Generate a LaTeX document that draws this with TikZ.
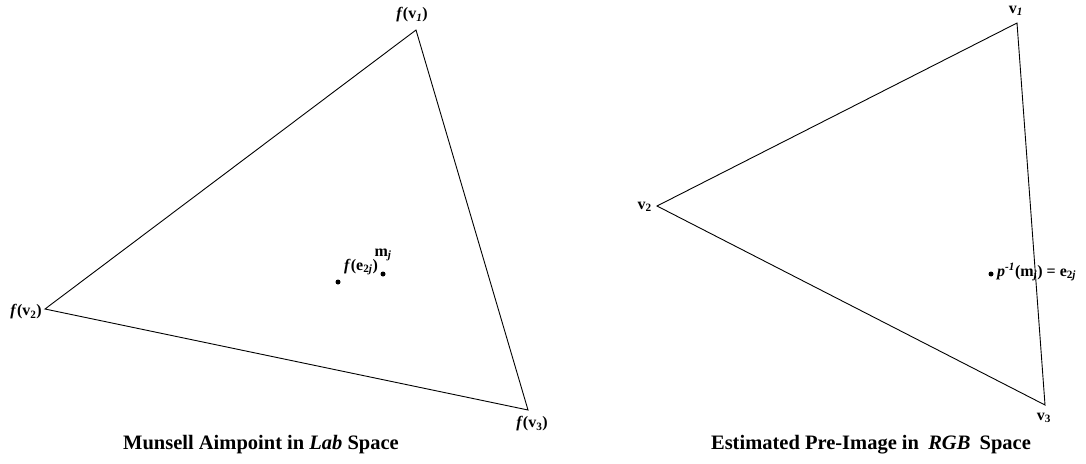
\documentclass[tikz,border=0pt]{standalone}
\usepackage{fontspec}
\setmainfont{Liberation Serif}
\newcommand{\sbi}[1]{\textsubscript{\textit{#1}}}
\newcommand{\spi}[1]{\textsuperscript{\textit{#1}}}
\begin{document}
\begin{tikzpicture}[x=1pt,y=-1pt,
  edge/.style={draw=black,line width=0.9pt,line join=miter},
  lbl/.style={font=\fontsize{16}{18}\selectfont\bfseries,inner sep=1pt},
  captxt/.style={font=\fontsize{20.5}{23}\selectfont\bfseries,inner sep=0pt},
  pt/.style={circle,fill=black,inner sep=0pt,minimum size=5pt}]
\useasboundingbox (0,0) rectangle (1086,463);
% left triangle
\coordinate (a1) at (416,30);
\coordinate (a2) at (45,309);
\coordinate (a3) at (528,410);
\draw[edge] (a1) -- (a2) -- (a3) -- cycle;
\node[lbl] (la1) at (412,15) {\textit{f}(v\sbi{1})};
\node[lbl,anchor=east] (la2) at (43,312) {\textit{f}(v\textsubscript{2})};
\node[lbl] (la3) at (532,424) {\textit{f}(v\textsubscript{3})};
\node[pt] (fe) at (338,282) {};
\node[pt] (mj) at (383,274) {};
\node[lbl] (lfe) at (361,267) {\textit{f}(e\textsubscript{2\textit{j}})};
\node[lbl] (lmj) at (383,255) {m\sbi{j}};
\node[captxt] (c1) at (261,445) {Munsell Aimpoint in\ \textit{Lab}\ Space};
% right triangle
\coordinate (b1) at (1017,23);
\coordinate (b2) at (657,206);
\coordinate (b3) at (1045,405);
\draw[edge] (b1) -- (b2) -- (b3) -- cycle;
\node[lbl] (lb1) at (1016,11) {v\sbi{1}};
\node[lbl,anchor=east] (lb2) at (653,207) {v\textsubscript{2}};
\node[lbl] (lb3) at (1044,418) {v\textsubscript{3}};
\node[pt] (pe) at (991,274) {};
\node[lbl,anchor=west] (lpe) at (996,272) {\textit{p}\spi{-1}(m\sbi{j}) = e\textsubscript{2\textit{j}}};
\node[captxt] (c2) at (871,445) {Estimated Pre-Image in\hspace{0.45em}\textit{RGB}\hspace{0.45em}Space};
\end{tikzpicture}
\end{document}
